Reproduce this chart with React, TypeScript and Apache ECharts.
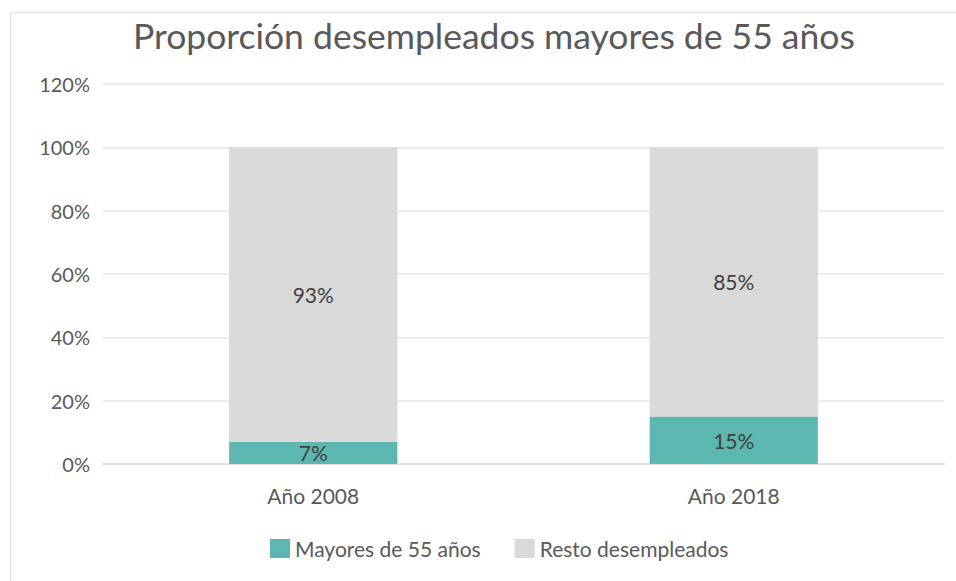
import React, { useEffect, useRef } from "react";
import * as echarts from "echarts";

const categories = ["Año 2008", "Año 2018"];
const mayores55 = [7, 15];
const resto = [93, 85];
const seriesNames = ["Mayores de 55 años", "Resto desempleados"];
const titleText = "Proporción desempleados mayores de 55 años";

const FONT = "Lato, 'Open Sans', sans-serif";

export default function App() {
  const ref = useRef<HTMLDivElement>(null);
  useEffect(() => {
    const chart = echarts.init(ref.current!, null, { renderer: "svg" });
    chart.setOption({
      animation: false,
      backgroundColor: "#ffffff",
      title: {
        text: titleText,
        left: 128,
        top: 12,
        textStyle: { fontFamily: FONT, fontSize: 35.5, fontWeight: "normal", color: "#595959" },
      },
      graphic: [
        {
          type: "rect",
          shape: { x: 10.5, y: 12.5, width: 1000, height: 700 },
          style: { fill: "none", stroke: "#e4e4e4", lineWidth: 1.5 },
          silent: true,
        },
      ],
      legend: {
        top: 533,
        left: 265,
        itemWidth: 20,
        itemHeight: 19,
        itemGap: 34,
        icon: "rect",
        textStyle: { fontFamily: FONT, fontSize: 21, color: "#595959" },
        data: seriesNames,
      },
      grid: { left: 103, right: 12, top: 84, bottom: 117, containLabel: false },
      xAxis: {
        type: "category",
        data: categories,
        axisLine: { lineStyle: { color: "#e2e2e2", width: 2 } },
        axisTick: { show: false },
        axisLabel: { fontFamily: FONT, fontSize: 21, color: "#595959", margin: 21 },
      },
      yAxis: {
        type: "value",
        min: 0,
        max: 120,
        interval: 20,
        axisLine: { show: false },
        axisTick: { show: false },
        splitLine: { lineStyle: { color: "#e6e6e6", width: 1.5 } },
        axisLabel: {
          fontFamily: FONT,
          fontSize: 20,
          color: "#595959",
          margin: 13,
          formatter: (v: number) => v + "%",
        },
      },
      series: [
        {
          name: seriesNames[0],
          type: "bar",
          stack: "total",
          barWidth: "40%",
          data: mayores55,
          itemStyle: { color: "#5bb7af" },
          label: {
            show: true,
            position: "inside",
            formatter: "{c}%",
            fontFamily: FONT,
            fontSize: 21,
            color: "#404040",
          },
        },
        {
          name: seriesNames[1],
          type: "bar",
          stack: "total",
          barWidth: "40%",
          data: resto,
          itemStyle: { color: "#d9d9d9" },
          label: {
            show: true,
            position: "inside",
            formatter: "{c}%",
            fontFamily: FONT,
            fontSize: 21,
            color: "#404040",
          },
        },
      ],
    });
    return () => chart.dispose();
  }, []);
  return (
    <div
      ref={ref}
      style={{ position: "absolute", left: 0, top: 0, width: 956, height: 581 }}
    />
  );
}
